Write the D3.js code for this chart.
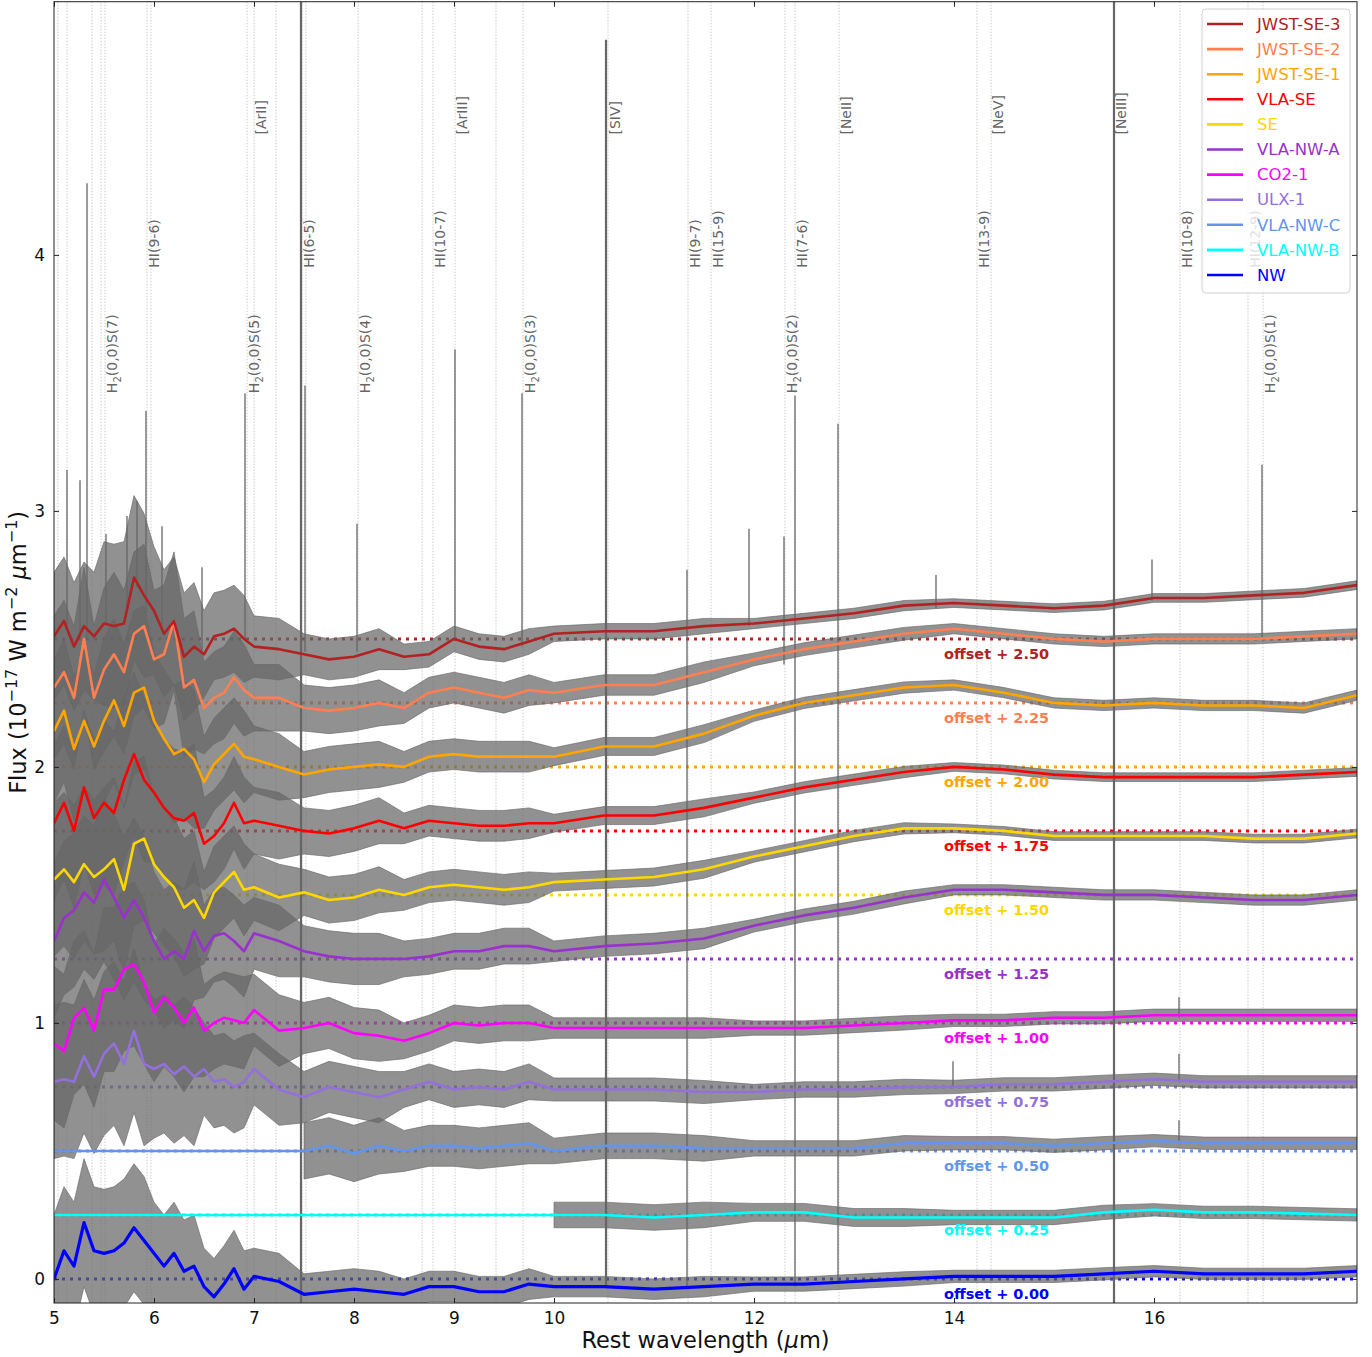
<!DOCTYPE html>
<html>
<head>
<meta charset="utf-8">
<script src="https://cdn.jsdelivr.net/npm/d3@7"></script>
<style>
body { margin: 0; background: #fff; }
svg { font-family: "DejaVu Sans", sans-serif; }
</style>
</head>
<body>
<div id="container"></div>
<script>
// wavelength grid (micron) shared by all smoothed spectra
var wavelengths = [5.0,5.1,5.2,5.3,5.4,5.5,5.6,5.7,5.8,5.9,6.0,6.1,6.2,6.3,6.4,6.5,6.6,6.7,6.8,6.9,7.0,
    7.25,7.5,7.75,8.0,8.25,8.5,8.75,9.0,9.25,9.5,9.75,10.0,
    10.5,11.0,11.5,12.0,12.5,13.0,13.5,14.0,14.5,15.0,15.5,16.0,16.5,17.0,17.5,18.03];

// smoothed spectra (offset already added)
var jwstSe3 = [2.51,2.57,2.47,2.55,2.51,2.56,2.55,2.56,2.74,2.67,2.61,2.52,2.57,2.43,2.47,2.44,2.51,2.52,2.54,2.50,2.47,
    2.46,2.44,2.42,2.43,2.46,2.43,2.44,2.50,2.47,2.46,2.49,2.52,
    2.53,2.53,2.55,2.56,2.58,2.60,2.63,2.64,2.63,2.62,2.63,2.66,2.66,2.67,2.68,2.71];
var jwstSe2 = [2.31,2.37,2.27,2.50,2.27,2.38,2.44,2.37,2.52,2.55,2.42,2.44,2.57,2.31,2.34,2.23,2.27,2.29,2.35,2.30,2.27,
    2.27,2.23,2.22,2.23,2.25,2.23,2.29,2.31,2.29,2.27,2.30,2.29,
    2.32,2.32,2.37,2.42,2.46,2.49,2.52,2.54,2.52,2.50,2.49,2.50,2.50,2.50,2.51,2.52];
var jwstSe1 = [2.14,2.22,2.07,2.18,2.08,2.18,2.26,2.16,2.29,2.31,2.18,2.11,2.05,2.07,2.03,1.94,2.01,2.05,2.09,2.04,2.03,
    2.00,1.97,1.99,2.00,2.01,2.00,2.04,2.05,2.04,2.04,2.04,2.04,
    2.08,2.08,2.13,2.20,2.25,2.28,2.31,2.32,2.29,2.25,2.24,2.25,2.24,2.24,2.23,2.28];
var vlaSe = [1.78,1.86,1.75,1.92,1.80,1.86,1.82,1.95,2.05,1.95,1.90,1.84,1.80,1.79,1.82,1.70,1.73,1.78,1.86,1.78,1.79,
    1.77,1.75,1.74,1.76,1.79,1.76,1.79,1.78,1.77,1.77,1.78,1.78,
    1.81,1.81,1.84,1.88,1.92,1.95,1.98,2.00,1.99,1.97,1.96,1.96,1.96,1.96,1.97,1.98];
var se = [1.56,1.60,1.55,1.62,1.57,1.60,1.64,1.52,1.70,1.72,1.62,1.57,1.53,1.45,1.48,1.41,1.51,1.55,1.59,1.52,1.53,
    1.49,1.51,1.48,1.49,1.52,1.50,1.53,1.54,1.53,1.52,1.53,1.55,
    1.56,1.57,1.60,1.65,1.69,1.73,1.76,1.76,1.75,1.73,1.73,1.73,1.73,1.72,1.72,1.74];
var vlaNwA = [1.32,1.41,1.44,1.51,1.47,1.56,1.49,1.41,1.48,1.41,1.32,1.25,1.28,1.25,1.36,1.28,1.34,1.35,1.32,1.28,1.35,
    1.32,1.28,1.26,1.25,1.25,1.25,1.26,1.28,1.28,1.30,1.30,1.28,
    1.30,1.31,1.33,1.38,1.42,1.45,1.49,1.52,1.52,1.51,1.50,1.50,1.49,1.48,1.48,1.50];
var co21 = [0.92,0.89,1.02,1.06,0.97,1.13,1.13,1.21,1.23,1.16,1.04,1.10,1.06,1.00,1.06,0.97,1.00,1.02,1.01,1.00,1.05,
    0.97,0.98,1.00,0.96,0.95,0.93,0.96,1.00,0.99,1.00,1.00,0.98,
    0.98,0.98,0.98,0.98,0.98,0.99,1.00,1.01,1.01,1.02,1.02,1.03,1.03,1.03,1.03,1.03];
var ulx1 = [0.77,0.78,0.77,0.87,0.79,0.88,0.92,0.84,0.97,0.84,0.82,0.84,0.80,0.83,0.79,0.82,0.77,0.78,0.75,0.77,0.82,
    0.74,0.71,0.75,0.73,0.71,0.74,0.77,0.74,0.75,0.74,0.77,0.74,
    0.74,0.74,0.73,0.73,0.74,0.74,0.75,0.75,0.76,0.76,0.77,0.78,0.77,0.77,0.77,0.77];
var vlaNwC = [0.50,0.50,0.50,0.50,0.50,0.50,0.50,0.50,0.50,0.50,0.50,0.50,0.50,0.50,0.50,0.50,0.50,0.50,0.50,0.50,0.50,
    0.50,0.50,0.52,0.49,0.52,0.50,0.52,0.52,0.51,0.52,0.53,0.50,
    0.52,0.52,0.51,0.51,0.51,0.51,0.53,0.53,0.53,0.52,0.53,0.54,0.53,0.53,0.53,0.53];
var vlaNwB = [0.25,0.25,0.25,0.25,0.25,0.25,0.25,0.25,0.25,0.25,0.25,0.25,0.25,0.25,0.25,0.25,0.25,0.25,0.25,0.25,0.25,
    0.25,0.25,0.25,0.25,0.25,0.25,0.25,0.25,0.25,0.25,0.25,0.25,
    0.25,0.24,0.25,0.26,0.26,0.24,0.24,0.24,0.24,0.24,0.26,0.27,0.26,0.26,0.255,0.25];
var nw = [0.00,0.11,0.05,0.22,0.11,0.10,0.11,0.14,0.20,0.15,0.10,0.05,0.10,0.03,0.05,-0.03,-0.07,-0.02,0.04,-0.04,0.01,
    -0.01,-0.06,-0.05,-0.04,-0.05,-0.06,-0.03,-0.03,-0.05,-0.05,-0.02,-0.03,
    -0.03,-0.04,-0.03,-0.02,-0.02,-0.01,0.00,0.01,0.01,0.01,0.02,0.03,0.02,0.02,0.02,0.03];

// noise half-width of the raw (grey) spectra, by wavelength zone (upper bounds)
var noiseBreaks = [5.5, 6.0, 6.5, 7.0, 7.5, 8.5, 10.0, 12.0, 14.0, 16.0, 18.1];
var noiseSe3  = [0.25,0.32,0.25,0.17,0.12,0.08,0.05,0.03,0.02,0.017,0.017];
var noiseSe2  = [0.28,0.32,0.27,0.18,0.13,0.09,0.06,0.04,0.025,0.02,0.02];
var noiseSe1  = [0.28,0.32,0.27,0.18,0.13,0.09,0.06,0.035,0.022,0.02,0.02];
var noiseVlaSe= [0.30,0.32,0.27,0.18,0.13,0.09,0.06,0.035,0.022,0.017,0.017];
var noiseSe   = [0.30,0.32,0.27,0.18,0.13,0.09,0.06,0.035,0.022,0.017,0.017];
var noiseNwA  = [0.30,0.32,0.27,0.18,0.14,0.10,0.07,0.04,0.025,0.02,0.02];
var noiseCo2  = [0.30,0.32,0.27,0.18,0.14,0.10,0.07,0.04,0.028,0.024,0.024];
var noiseUlx  = [0.30,0.32,0.27,0.18,0.14,0.10,0.07,0.045,0.03,0.026,0.024];
var noiseNwC  = [null,null,null,null,null,0.11,0.08,0.05,0.03,0.026,0.024];
var noiseNwB  = [null,null,null,null,null,null,null,0.05,0.035,0.028,0.024];
var noiseNw   = [0.25,0.25,0.20,0.15,0.11,0.08,0.06,0.04,0.028,0.024,0.022];

var seriesNames = ['JWST-SE-3','JWST-SE-2','JWST-SE-1','VLA-SE','SE','VLA-NW-A','CO2-1','ULX-1','VLA-NW-C','VLA-NW-B','NW'];
var seriesOffsets = [2.50, 2.25, 2.00, 1.75, 1.50, 1.25, 1.00, 0.75, 0.50, 0.25, 0.00];
var seriesColors = ['#b22222','#ff7f50','#ffa500','#ff0000','#ffd700','#9932cc','#ff00ff','#9370db','#6495ed','#00ffff','#0000ff'];
var seriesValues = [jwstSe3, jwstSe2, jwstSe1, vlaSe, se, vlaNwA, co21, ulx1, vlaNwC, vlaNwB, nw];
var seriesNoise = [noiseSe3, noiseSe2, noiseSe1, noiseVlaSe, noiseSe, noiseNwA, noiseCo2, noiseUlx, noiseNwC, noiseNwB, noiseNw];

// narrow emission spikes in the raw spectra: wavelength, bottom, top
var spikeWl = [5.33, 5.92, 6.91, 7.47, 7.51, 8.03, 9.01, 9.68, 10.52, 11.33, 11.95, 12.30, 12.41, 12.84, 13.82, 15.60, 15.98, 17.08,
    16.25, 13.99, 16.25, 16.25, 5.13, 5.26, 5.52, 5.73, 5.83, 6.08, 6.48];
var spikeLo = [2.50, 2.60, 2.50, -0.094, 2.45, 2.45, 2.50, 2.47, -0.03, -0.03, 2.55, 2.40, -0.03, -0.02, 2.62, -0.094, 2.65, 2.50,
    1.02, 0.75, 0.53, 0.77, 2.55, 2.50, 2.55, 2.60, 2.70, 2.55, 2.45];
var spikeHi = [4.28, 3.39, 3.46, 4.99, 3.49, 2.95, 3.63, 3.46, 4.84, 2.77, 2.93, 2.90, 3.45, 3.34, 2.75, 4.99, 2.81, 3.18,
    1.10, 0.85, 0.62, 0.88, 3.16, 3.12, 2.91, 2.98, 3.04, 2.94, 2.78];

// identified lines
var lineNames = ['H2(0,0)S(7)','HI(9-6)','H2(0,0)S(5)','[ArII]','HI(6-5)','H2(0,0)S(4)','HI(10-7)','[ArIII]','H2(0,0)S(3)','[SIV]',
    'HI(9-7)','HI(15-9)','H2(0,0)S(2)','HI(7-6)','[NeII]','HI(13-9)','[NeV]','[NeIII]','HI(10-8)','HI(12-9)','H2(0,0)S(1)'];
var lineWl = [5.51, 5.93, 6.93, 7.00, 7.48, 8.04, 8.79, 9.01, 9.69, 10.54, 11.34, 11.57, 12.31, 12.41, 12.85, 14.23, 14.37, 15.60, 16.26, 16.94, 17.09];
var lineLabelY = [3.46, 3.95, 3.46, 4.47, 3.95, 3.46, 3.95, 4.47, 3.46, 4.47, 3.95, 3.95, 3.46, 3.95, 4.47, 3.95, 4.47, 4.47, 3.95, 3.95, 3.46];
var extraMarkerWl = [5.04, 5.13, 5.38, 5.47, 5.97, 7.22, 7.52, 8.68, 9.42];

var xTicks = [5, 6, 7, 8, 9, 10, 12, 14, 16];
var yTicks = [0, 1, 2, 3, 4];

var width = 1372, height = 1357;
var plotL = 54, plotR = 1357, plotT = 1.7, plotB = 1303;

var svg = d3.select('#container')
    .append('svg')
    .attr('width', width)
    .attr('height', height);

var x = d3.scaleLinear().domain([5.0, 18.03]).range([plotL, plotR]);
var y = d3.scaleLinear().domain([-0.094, 4.989]).range([plotB, plotT]);

svg.append('clipPath').attr('id', 'clip')
    .append('rect')
    .attr('x', plotL).attr('y', plotT)
    .attr('width', plotR - plotL).attr('height', plotB - plotT);

var plot = svg.append('g').attr('clip-path', 'url(#clip)');

// vertical line markers
plot.append('g').selectAll('line')
    .data(lineWl.concat(extraMarkerWl))
    .enter().append('line')
    .attr('x1', function(d) { return x(d); })
    .attr('x2', function(d) { return x(d); })
    .attr('y1', plotT).attr('y2', plotB)
    .style('stroke', '#c4c4c4')
    .style('stroke-width', 0.9)
    .style('stroke-dasharray', '1.5,1.5');

// offset reference lines
plot.append('g').selectAll('line')
    .data(seriesOffsets)
    .enter().append('line')
    .attr('x1', plotL).attr('x2', plotR)
    .attr('y1', function(d) { return y(d); })
    .attr('y2', function(d) { return y(d); })
    .style('stroke', function(d, i) { return seriesColors[i]; })
    .style('stroke-width', 3)
    .style('stroke-dasharray', '3,5');

var series = seriesNames.map(function(name, i) {
    return {
        name: name,
        color: seriesColors[i],
        offset: seriesOffsets[i],
        points: wavelengths.map(function(w, j) {
            var k = 0;
            while (k < noiseBreaks.length - 1 && w >= noiseBreaks[k]) k++;
            return { w: w, v: seriesValues[i][j], hw: seriesNoise[i][k] };
        })
    };
});

// raw spectra (grey noise envelope)
var band = d3.area()
    .defined(function(d) { return d.hw != null; })
    .x(function(d) { return x(d.w); })
    .y0(function(d) { return y(d.v - d.hw); })
    .y1(function(d) { return y(d.v + d.hw); });

plot.append('g').selectAll('path')
    .data(series)
    .enter().append('path')
    .attr('d', function(d) { return band(d.points); })
    .style('fill', '#666')
    .style('fill-opacity', 0.72)
    .style('stroke', '#666')
    .style('stroke-opacity', 0.8)
    .style('stroke-width', 0.8);

plot.append('g').selectAll('line')
    .data(spikeWl)
    .enter().append('line')
    .attr('x1', function(d) { return x(d); })
    .attr('x2', function(d) { return x(d); })
    .attr('y1', function(d, i) { return y(spikeLo[i]); })
    .attr('y2', function(d, i) { return y(spikeHi[i]); })
    .style('stroke', '#666')
    .style('stroke-width', function(d, i) { return spikeHi[i] > 4.5 ? 2.2 : 1.3; });

// smoothed spectra
var line = d3.line()
    .x(function(d) { return x(d.w); })
    .y(function(d) { return y(d.v); });

plot.append('g').selectAll('path')
    .data(series.slice().reverse())
    .enter().append('path')
    .attr('d', function(d) { return line(d.points); })
    .style('fill', 'none')
    .style('stroke', function(d) { return d.color; })
    .style('stroke-width', function(d) { return d.name === 'NW' ? 3.2 : 2.6; })
    .style('stroke-linejoin', 'round');

// offset labels
svg.append('g').selectAll('text')
    .data(series)
    .enter().append('text')
    .attr('x', x(13.9))
    .attr('y', function(d) { return y(d.offset) + 20; })
    .style('font-size', '14.5px')
    .style('font-weight', 'bold')
    .style('fill', function(d) { return d.color; })
    .text(function(d) { return 'offset + ' + d.offset.toFixed(2); });

// line labels
var labels = svg.append('g').selectAll('text')
    .data(lineNames)
    .enter().append('text')
    .attr('transform', function(d, i) {
        return 'translate(' + (x(lineWl[i]) + 12) + ',' + y(lineLabelY[i]) + ') rotate(-90)';
    })
    .style('font-size', '14px')
    .style('fill', '#666');

labels.each(function(d) {
    var t = d3.select(this);
    if (d.indexOf('H2') === 0) {
        t.append('tspan').text('H');
        t.append('tspan').attr('dy', 4).style('font-size', '10px').text('2');
        t.append('tspan').attr('dy', -4).text(d.slice(2));
    } else {
        t.text(d);
    }
});

// axes (ticks pointing inwards on all sides)
var axisStyle = function(g) {
    g.select('.domain').remove();
    g.selectAll('.tick line').style('stroke', '#222').style('stroke-width', 1);
    g.selectAll('.tick text').style('font-size', '17px').style('fill', '#111')
        .style('font-family', '"DejaVu Sans", sans-serif');
};

svg.append('g')
    .attr('transform', 'translate(0,' + plotB + ')')
    .call(d3.axisBottom(x).tickValues(xTicks).tickFormat(d3.format('d')).tickSize(-5).tickPadding(9))
    .call(axisStyle);
svg.append('g')
    .attr('transform', 'translate(0,' + plotT + ')')
    .call(d3.axisTop(x).tickValues(xTicks).tickFormat('').tickSize(-5))
    .call(axisStyle);
svg.append('g')
    .attr('transform', 'translate(' + plotL + ',0)')
    .call(d3.axisLeft(y).tickValues(yTicks).tickFormat(d3.format('d')).tickSize(-5).tickPadding(9))
    .call(axisStyle);
svg.append('g')
    .attr('transform', 'translate(' + plotR + ',0)')
    .call(d3.axisRight(y).tickValues(yTicks).tickFormat('').tickSize(-5))
    .call(axisStyle);

svg.append('rect')
    .attr('x', plotL).attr('y', plotT)
    .attr('width', plotR - plotL).attr('height', plotB - plotT)
    .style('fill', 'none')
    .style('stroke', '#222')
    .style('stroke-width', 1);

// axis titles
var xTitle = svg.append('text')
    .attr('x', (plotL + plotR) / 2)
    .attr('y', 1348)
    .attr('text-anchor', 'middle')
    .style('font-size', '22.5px')
    .style('fill', '#111');
xTitle.append('tspan').text('Rest wavelength (');
xTitle.append('tspan').style('font-style', 'italic').text('\u03bc');
xTitle.append('tspan').text('m)');

var yTitle = svg.append('text')
    .attr('transform', 'translate(26,' + ((plotT + plotB) / 2) + ') rotate(-90)')
    .attr('text-anchor', 'middle')
    .style('font-size', '22.5px')
    .style('fill', '#111');
yTitle.append('tspan').text('Flux (10');
yTitle.append('tspan').attr('dy', -9).style('font-size', '16px').text('\u221217');
yTitle.append('tspan').attr('dy', 9).text(' W m');
yTitle.append('tspan').attr('dy', -9).style('font-size', '16px').text('\u22122');
yTitle.append('tspan').attr('dy', 9).text(' ');
yTitle.append('tspan').style('font-style', 'italic').text('\u03bc');
yTitle.append('tspan').text('m');
yTitle.append('tspan').attr('dy', -9).style('font-size', '16px').text('\u22121');
yTitle.append('tspan').attr('dy', 9).text(')');

// legend
var legend = svg.append('g');
legend.append('rect')
    .attr('x', 1202).attr('y', 9)
    .attr('width', 148).attr('height', 284)
    .attr('rx', 4)
    .style('fill', '#fff')
    .style('fill-opacity', 0.8)
    .style('stroke', '#d0d0d0')
    .style('stroke-width', 1);

var entry = legend.selectAll('g.entry')
    .data(series)
    .enter().append('g')
    .attr('class', 'entry')
    .attr('transform', function(d, i) { return 'translate(0,' + (24 + i * 25.1) + ')'; });
entry.append('line')
    .attr('x1', 1207).attr('x2', 1243)
    .style('stroke', function(d) { return d.color; })
    .style('stroke-width', 2.6);
entry.append('text')
    .attr('x', 1257)
    .attr('dy', '0.35em')
    .style('font-size', '16.5px')
    .style('fill', function(d) { return d.color; })
    .text(function(d) { return d.name; });
</script>
</body>
</html>
